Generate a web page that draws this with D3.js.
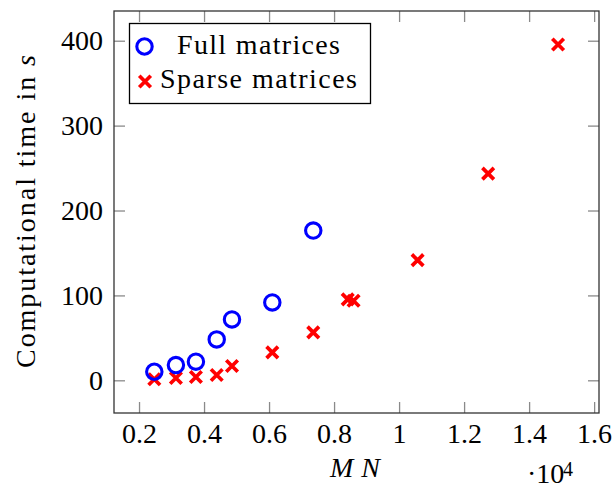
<!DOCTYPE html>
<html>
<head>
<meta charset="utf-8">
<script src="https://cdn.jsdelivr.net/npm/d3@7"></script>
<style>
  body { margin: 0; background: #fff; }
  svg text { font-family: "Liberation Serif", "DejaVu Serif", serif; fill: #000; }
</style>
</head>
<body>
<svg id="chartSVG"></svg>
<script>
// data (MN, time in s)
let fullMN = [2470, 3135, 3750, 4390, 4860, 6100, 7360];
let fullTime = [10.1, 18, 21.9, 48.2, 71.7, 91.7, 176.4];

let sparseMN = [2470, 3135, 3750, 4390, 4860, 6100, 7360, 8420, 8600, 10570, 12740, 14890];
let sparseTime = [1.2, 2.7, 3.9, 6.2, 16.8, 32.9, 56.5, 95.3, 93.7, 141.5, 243.5, 395.6];

let xTicks = [2000, 4000, 6000, 8000, 10000, 12000, 14000, 16000];
let yTicks = [0, 100, 200, 300, 400];
let seriesNames = ['Full matrices', 'Sparse matrices'];

let widthSVG = 614;
let heightSVG = 490;
let margins = {
  top: 11,
  bottom: 77,
  right: 15,
  left: 114
}

let width = widthSVG - margins.left - margins.right;
let height = heightSVG - margins.top - margins.bottom;

let fontSize = 28;

let SVG = d3.select('svg#chartSVG')
            .attr('width', widthSVG)
            .attr('height', heightSVG);

let SVGG = SVG.append('g')
              .attr('transform', `translate(${margins.left}, ${margins.top})`);

let x = d3.scaleLinear().domain([1230, 16150]).range([0, width]);
let y = d3.scaleLinear().domain([-38.5, 435]).range([height, 0]);

let tickLen = 11;
let tickColor = '#8a8a8a';

// bottom axis (ticks point inward)
let xAxis = d3.axisBottom(x)
              .tickValues(xTicks)
              .tickSize(-tickLen)
              .tickSizeOuter(0)
              .tickFormat(d => d3.format('~g')(d / 10000));

SVGG.append('g')
    .attr('class', 'x axis')
    .attr('transform', `translate(0, ${height})`)
    .call(xAxis);

// mirrored ticks on top
SVGG.append('g')
    .attr('class', 'x2 axis')
    .call(d3.axisTop(x).tickValues(xTicks).tickSize(-tickLen).tickSizeOuter(0).tickFormat(''));

let yAxis = d3.axisLeft(y)
              .tickValues(yTicks)
              .tickSize(-tickLen)
              .tickSizeOuter(0);

SVGG.append('g')
    .attr('class', 'y axis')
    .call(yAxis);

SVGG.append('g')
    .attr('class', 'y2 axis')
    .attr('transform', `translate(${width}, 0)`)
    .call(d3.axisRight(y).tickValues(yTicks).tickSize(-tickLen).tickSizeOuter(0).tickFormat(''));

SVGG.selectAll('.axis path.domain').remove();
SVGG.selectAll('.axis line')
    .attr('stroke', tickColor)
    .attr('stroke-width', 1.3);

SVGG.selectAll('.x.axis text')
    .attr('y', 30)
    .attr('dy', 0)
    .style('font-size', `${fontSize}px`);

SVGG.selectAll('.y.axis text')
    .attr('x', -11)
    .attr('dy', '0.33em')
    .style('font-size', `${fontSize}px`);

// frame
SVGG.append('rect')
    .attr('width', width)
    .attr('height', height)
    .attr('fill', 'none')
    .attr('stroke', '#333')
    .attr('stroke-width', 1.3);

// sparse: red crosses
let cross = d3.symbol().type(d3.symbolX).size(88);

SVGG.append('g')
    .selectAll('path')
    .data(sparseMN.map((m, i) => ({ mn: m, t: sparseTime[i] })))
    .enter()
    .append('path')
    .attr('d', cross)
    .attr('transform', d => `translate(${x(d.mn)}, ${y(d.t)})`)
    .attr('fill', 'none')
    .attr('stroke', '#ff0000')
    .attr('stroke-width', 3.7);

// full: blue circles
SVGG.append('g')
    .selectAll('circle')
    .data(fullMN.map((m, i) => ({ mn: m, t: fullTime[i] })))
    .enter()
    .append('circle')
    .attr('cx', d => x(d.mn))
    .attr('cy', d => y(d.t))
    .attr('r', 7.7)
    .attr('fill', 'none')
    .attr('stroke', '#0000ff')
    .attr('stroke-width', 3.1);

// axis labels
SVG.append('text')
   .attr('x', 330)
   .attr('y', 477)
   .attr('textLength', 50)
   .attr('lengthAdjust', 'spacing')
   .style('font-size', `${fontSize}px`)
   .style('font-style', 'italic')
   .text('MN');

// scale factor label, kept just inside the bottom edge
let expLabel = SVG.append('text')
                  .style('font-size', `${fontSize}px`);
expLabel.append('tspan').attr('x', 527).attr('y', 483).text('·10');
expLabel.append('tspan').attr('x', 563).attr('y', 476).style('font-size', '20px').text('4');

let yLab = SVG.append('text')
              .attr('transform', `translate(35, 368) rotate(-90)`)
              .attr('textLength', 313)
              .attr('lengthAdjust', 'spacing')
              .style('font-size', `${fontSize}px`);
yLab.append('tspan').text('Computational time in ');
yLab.append('tspan').style('font-style', 'italic').text('s');

// legend
let legend = SVG.append('g').attr('class', 'legend');

legend.append('rect')
      .attr('x', 129.5)
      .attr('y', 23.5)
      .attr('width', 241)
      .attr('height', 80)
      .attr('fill', '#fff')
      .attr('stroke', '#000')
      .attr('stroke-width', 1.3);

legend.append('circle')
      .attr('cx', 144.5)
      .attr('cy', 46.5)
      .attr('r', 7.7)
      .attr('fill', 'none')
      .attr('stroke', '#0000ff')
      .attr('stroke-width', 3.1);

legend.append('path')
      .attr('d', cross)
      .attr('transform', 'translate(145, 81.5)')
      .attr('fill', 'none')
      .attr('stroke', '#ff0000')
      .attr('stroke-width', 3.7);

let legendX = [177, 160];
let legendY = [54.3, 88.3];
let legendLen = [163, 197];

legend.selectAll('text')
      .data(seriesNames)
      .enter()
      .append('text')
      .attr('x', (d, i) => legendX[i])
      .attr('y', (d, i) => legendY[i])
      .attr('textLength', (d, i) => legendLen[i])
      .attr('lengthAdjust', 'spacing')
      .style('font-size', `${fontSize}px`)
      .text(d => d);
</script>
</body>
</html>
